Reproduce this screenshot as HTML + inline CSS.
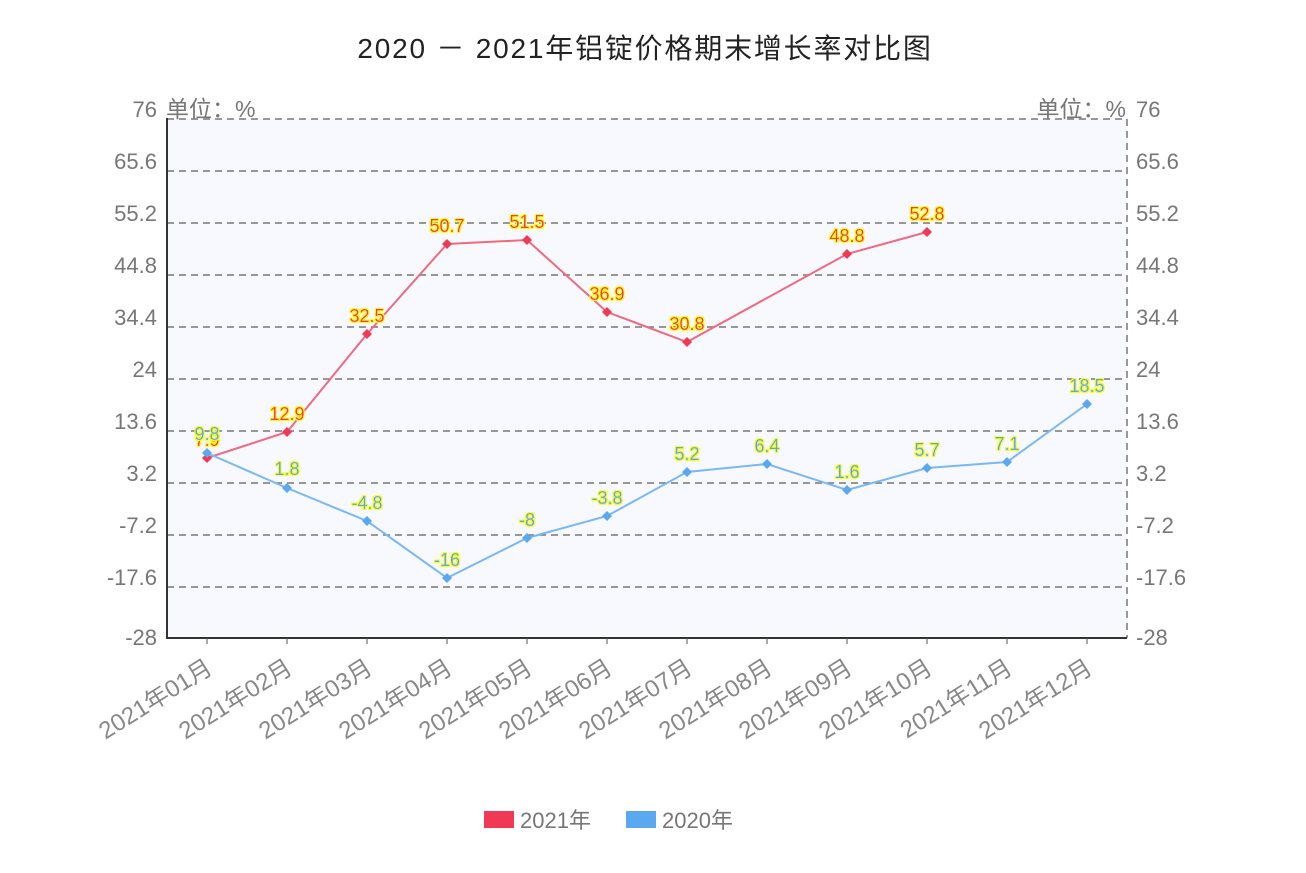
<!DOCTYPE html>
<html><head><meta charset="utf-8"><style>
body{margin:0;background:#fff;}
text{font-family:"Liberation Sans","Noto Sans CJK SC",sans-serif;}
</style></head><body>
<svg width="1306" height="868" xmlns="http://www.w3.org/2000/svg">
<defs>
<filter id="glow" x="-20%" y="-40%" width="140%" height="180%">
<feMorphology in="SourceAlpha" operator="dilate" radius="1.2" result="d"/>
<feFlood flood-color="#ffff00"/><feComposite in2="d" operator="in" result="y"/>
<feMerge><feMergeNode in="y"/><feMergeNode in="SourceGraphic"/></feMerge>
</filter>
</defs>
<text x="645" y="58" font-size="28" letter-spacing="1.8" text-anchor="middle" fill="#222">2020 － 2021年铝锭价格期末增长率对比图</text>
<rect x="167" y="119" width="960" height="519" fill="#f8f9ff"/>
<g stroke="#777" stroke-width="1.5" stroke-dasharray="7,5" fill="none">
<line x1="167" y1="119" x2="1127" y2="119"/>
<line x1="167" y1="171" x2="1127" y2="171"/>
<line x1="167" y1="223" x2="1127" y2="223"/>
<line x1="167" y1="275" x2="1127" y2="275"/>
<line x1="167" y1="327" x2="1127" y2="327"/>
<line x1="167" y1="379" x2="1127" y2="379"/>
<line x1="167" y1="431" x2="1127" y2="431"/>
<line x1="167" y1="483" x2="1127" y2="483"/>
<line x1="167" y1="535" x2="1127" y2="535"/>
<line x1="167" y1="587" x2="1127" y2="587"/>
<line x1="1127" y1="119" x2="1127" y2="638"/>
</g>
<line x1="167" y1="118" x2="167" y2="639" stroke="#333" stroke-width="2"/>
<line x1="166" y1="638" x2="1127" y2="638" stroke="#333" stroke-width="2"/>
<g stroke="#555" stroke-width="1">
<line x1="207" y1="638" x2="207" y2="644"/><line x1="287" y1="638" x2="287" y2="644"/><line x1="367" y1="638" x2="367" y2="644"/><line x1="447" y1="638" x2="447" y2="644"/><line x1="527" y1="638" x2="527" y2="644"/><line x1="607" y1="638" x2="607" y2="644"/><line x1="687" y1="638" x2="687" y2="644"/><line x1="767" y1="638" x2="767" y2="644"/><line x1="847" y1="638" x2="847" y2="644"/><line x1="927" y1="638" x2="927" y2="644"/><line x1="1007" y1="638" x2="1007" y2="644"/><line x1="1087" y1="638" x2="1087" y2="644"/>
</g>
<g font-size="22" fill="#777" text-anchor="end">
<text x="157" y="117">76</text><text x="157" y="169">65.6</text><text x="157" y="221">55.2</text><text x="157" y="273">44.8</text><text x="157" y="325">34.4</text><text x="157" y="377">24</text><text x="157" y="429">13.6</text><text x="157" y="481">3.2</text><text x="157" y="533">-7.2</text><text x="157" y="585">-17.6</text><text x="157" y="645">-28</text>
</g>
<g font-size="22" fill="#777" text-anchor="start">
<text x="1136" y="117">76</text><text x="1136" y="169">65.6</text><text x="1136" y="221">55.2</text><text x="1136" y="273">44.8</text><text x="1136" y="325">34.4</text><text x="1136" y="377">24</text><text x="1136" y="429">13.6</text><text x="1136" y="481">3.2</text><text x="1136" y="533">-7.2</text><text x="1136" y="585">-17.6</text><text x="1136" y="645">-28</text>
</g>
<text x="166" y="117" font-size="23" fill="#777">单位：%</text>
<text x="1126" y="117" font-size="23" fill="#777" text-anchor="end">单位：%</text>
<g font-size="24" fill="#888" text-anchor="end">
<text transform="translate(214,672) rotate(-32)">2021年01月</text>
<text transform="translate(294,672) rotate(-32)">2021年02月</text>
<text transform="translate(374,672) rotate(-32)">2021年03月</text>
<text transform="translate(454,672) rotate(-32)">2021年04月</text>
<text transform="translate(534,672) rotate(-32)">2021年05月</text>
<text transform="translate(614,672) rotate(-32)">2021年06月</text>
<text transform="translate(694,672) rotate(-32)">2021年07月</text>
<text transform="translate(774,672) rotate(-32)">2021年08月</text>
<text transform="translate(854,672) rotate(-32)">2021年09月</text>
<text transform="translate(934,672) rotate(-32)">2021年10月</text>
<text transform="translate(1014,672) rotate(-32)">2021年11月</text>
<text transform="translate(1094,672) rotate(-32)">2021年12月</text>
</g>
<polyline fill="none" stroke="#f06a7c" stroke-width="2" points="207,458 287,432 367,334 447,244 527,240 607,312 687,342 847,254 927,232"/>
<polyline fill="none" stroke="#7ab8f5" stroke-width="2" points="207,453 287,488 367,521 447,578 527,538 607,516 687,472 767,464 847,490 927,468 1007,462 1087,404"/>
<g fill="#f03a55">
<path d="M207,453l5,5l-5,5l-5,-5z"/><path d="M287,427l5,5l-5,5l-5,-5z"/><path d="M367,329l5,5l-5,5l-5,-5z"/><path d="M447,239l5,5l-5,5l-5,-5z"/><path d="M527,235l5,5l-5,5l-5,-5z"/><path d="M607,307l5,5l-5,5l-5,-5z"/><path d="M687,337l5,5l-5,5l-5,-5z"/><path d="M847,249l5,5l-5,5l-5,-5z"/><path d="M927,227l5,5l-5,5l-5,-5z"/>
</g>
<g fill="#5aa8f0">
<path d="M207,448l5,5l-5,5l-5,-5z"/><path d="M287,483l5,5l-5,5l-5,-5z"/><path d="M367,516l5,5l-5,5l-5,-5z"/><path d="M447,573l5,5l-5,5l-5,-5z"/><path d="M527,533l5,5l-5,5l-5,-5z"/><path d="M607,511l5,5l-5,5l-5,-5z"/><path d="M687,467l5,5l-5,5l-5,-5z"/><path d="M767,459l5,5l-5,5l-5,-5z"/><path d="M847,485l5,5l-5,5l-5,-5z"/><path d="M927,463l5,5l-5,5l-5,-5z"/><path d="M1007,457l5,5l-5,5l-5,-5z"/><path d="M1087,399l5,5l-5,5l-5,-5z"/>
</g>
<g font-size="18" text-anchor="middle" fill="#f03a55" filter="url(#glow)">
<text x="207" y="446">7.9</text><text x="287" y="420">12.9</text><text x="367" y="322">32.5</text><text x="447" y="232">50.7</text><text x="527" y="228">51.5</text><text x="607" y="300">36.9</text><text x="687" y="330">30.8</text><text x="847" y="242">48.8</text><text x="927" y="220">52.8</text>
</g>
<g font-size="18" text-anchor="middle" fill="#5aa8f0" filter="url(#glow)">
<text x="207" y="440">9.8</text><text x="287" y="475">1.8</text><text x="367" y="509">-4.8</text><text x="447" y="566">-16</text><text x="527" y="526">-8</text><text x="607" y="504">-3.8</text><text x="687" y="460">5.2</text><text x="767" y="452">6.4</text><text x="847" y="478">1.6</text><text x="927" y="456">5.7</text><text x="1007" y="450">7.1</text><text x="1087" y="392">18.5</text>
</g>
<rect x="484" y="811" width="30" height="17" fill="#f03a55"/>
<text x="520" y="828" font-size="22" fill="#777">2021年</text>
<rect x="626" y="811" width="30" height="17" fill="#5aa8f0"/>
<text x="662" y="828" font-size="22" fill="#777">2020年</text>
</svg>
</body></html>
